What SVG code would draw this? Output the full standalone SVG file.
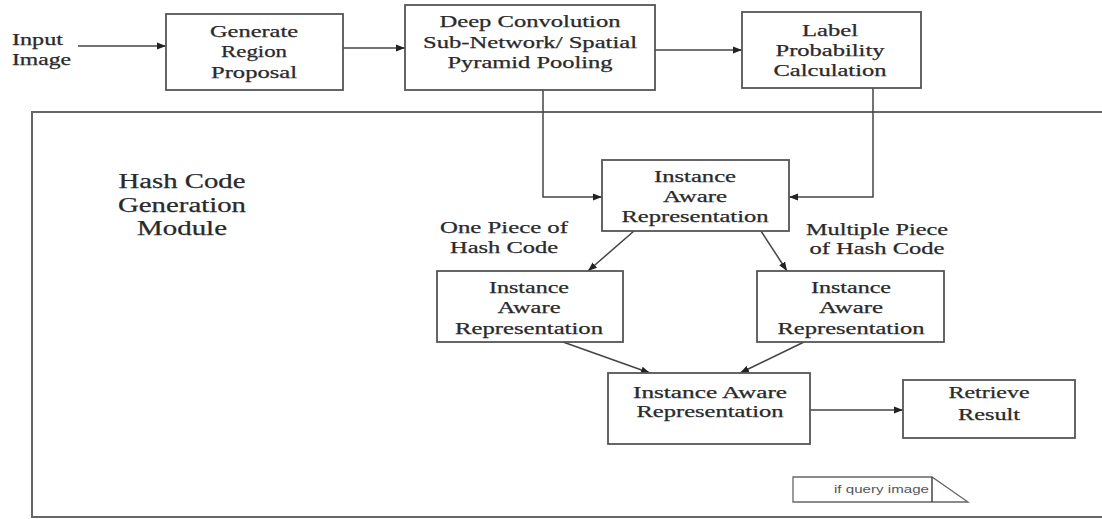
<svg xmlns="http://www.w3.org/2000/svg" width="1102" height="519" viewBox="0 0 1102 519">
<defs>
<marker id="ah" markerWidth="10" markerHeight="8" refX="9" refY="4" orient="auto" markerUnits="userSpaceOnUse">
<path d="M0,0.5 L9,4 L0,7.5 Z" fill="#222"/>
</marker>
<style>
.box{fill:#fff;stroke:#555;stroke-width:1.8}
.frame{fill:none;stroke:#666;stroke-width:2}
.t{font-family:'Liberation Serif','DejaVu Serif',serif;font-size:16px;fill:#2a2a2a;stroke:#2a2a2a;stroke-width:0.25;text-anchor:middle}
.ts{font-family:'Liberation Serif','DejaVu Serif',serif;font-size:16px;fill:#2a2a2a;stroke:#2a2a2a;stroke-width:0.25}
.tb{font-family:'Liberation Serif','DejaVu Serif',serif;font-size:20px;fill:#2a2a2a;stroke:#2a2a2a;stroke-width:0.25;text-anchor:middle}
.c{fill:none;stroke:#444;stroke-width:1.5}
.note{font-family:'Liberation Sans',Arial,sans-serif;font-size:11px;fill:#555;text-anchor:end}
</style>
</defs>
<rect width="1102" height="519" fill="#fff"/>
<g id="module-frame">
<rect class="frame" x="32" y="112" width="1090" height="405"/>
<text class="tb" x="182" y="188" textLength="127" lengthAdjust="spacingAndGlyphs">Hash Code</text>
<text class="tb" x="182" y="212" textLength="128" lengthAdjust="spacingAndGlyphs">Generation</text>
<text class="tb" x="182" y="235" textLength="90" lengthAdjust="spacingAndGlyphs">Module</text>
</g>
<g id="input-image">
<text class="ts" x="12" y="45" textLength="51" lengthAdjust="spacingAndGlyphs">Input</text>
<text class="ts" x="12" y="65" textLength="59" lengthAdjust="spacingAndGlyphs">Image</text>
</g>
<g id="connectors">
<line class="c" x1="78" y1="46" x2="166" y2="46" marker-end="url(#ah)"/>
<line class="c" x1="343" y1="48" x2="405" y2="48" marker-end="url(#ah)"/>
<line class="c" x1="655" y1="50" x2="742" y2="50" marker-end="url(#ah)"/>
<polyline class="c" points="543,90 543,197 602,197" marker-end="url(#ah)"/>
<polyline class="c" points="873,88 873,197 789,197" marker-end="url(#ah)"/>
<line class="c" x1="634" y1="231" x2="588" y2="271" marker-end="url(#ah)"/>
<line class="c" x1="761" y1="231" x2="787" y2="271" marker-end="url(#ah)"/>
<line class="c" x1="563" y1="342" x2="650" y2="373" marker-end="url(#ah)"/>
<line class="c" x1="804" y1="342" x2="740" y2="373" marker-end="url(#ah)"/>
<line class="c" x1="810" y1="410" x2="903" y2="410" marker-end="url(#ah)"/>
</g>
<g id="generate-region-proposal">
<rect class="box" x="166" y="14" width="177" height="76"/>
<text class="t" x="254" y="37" textLength="88" lengthAdjust="spacingAndGlyphs">Generate</text>
<text class="t" x="254" y="57" textLength="66" lengthAdjust="spacingAndGlyphs">Region</text>
<text class="t" x="254" y="78" textLength="86" lengthAdjust="spacingAndGlyphs">Proposal</text>
</g>
<g id="deep-convolution">
<rect class="box" x="405" y="5" width="250" height="85"/>
<text class="t" x="530" y="27" textLength="181" lengthAdjust="spacingAndGlyphs">Deep Convolution</text>
<text class="t" x="530" y="48" textLength="214" lengthAdjust="spacingAndGlyphs">Sub-Network/ Spatial</text>
<text class="t" x="530" y="68" textLength="165" lengthAdjust="spacingAndGlyphs">Pyramid Pooling</text>
</g>
<g id="label-probability">
<rect class="box" x="742" y="12" width="179" height="76"/>
<text class="t" x="830" y="36" textLength="56" lengthAdjust="spacingAndGlyphs">Label</text>
<text class="t" x="830" y="56" textLength="109" lengthAdjust="spacingAndGlyphs">Probability</text>
<text class="t" x="830" y="76" textLength="113" lengthAdjust="spacingAndGlyphs">Calculation</text>
</g>
<g id="instance-top">
<rect class="box" x="602" y="160" width="187" height="71"/>
<text class="t" x="695" y="182" textLength="82" lengthAdjust="spacingAndGlyphs">Instance</text>
<text class="t" x="695" y="202" textLength="64" lengthAdjust="spacingAndGlyphs">Aware</text>
<text class="t" x="695" y="222" textLength="147" lengthAdjust="spacingAndGlyphs">Representation</text>
</g>
<g id="label-one-piece">
<text class="t" x="504" y="233" textLength="128" lengthAdjust="spacingAndGlyphs">One Piece of</text>
<text class="t" x="504" y="253" textLength="108" lengthAdjust="spacingAndGlyphs">Hash Code</text>
</g>
<g id="label-multiple-piece">
<text class="t" x="877" y="235" textLength="142" lengthAdjust="spacingAndGlyphs">Multiple Piece</text>
<text class="t" x="877" y="254" textLength="135" lengthAdjust="spacingAndGlyphs">of Hash Code</text>
</g>
<g id="instance-left">
<rect class="box" x="437" y="271" width="186" height="71"/>
<text class="t" x="529" y="293" textLength="80" lengthAdjust="spacingAndGlyphs">Instance</text>
<text class="t" x="529" y="313" textLength="63" lengthAdjust="spacingAndGlyphs">Aware</text>
<text class="t" x="529" y="334" textLength="148" lengthAdjust="spacingAndGlyphs">Representation</text>
</g>
<g id="instance-right">
<rect class="box" x="757" y="271" width="187" height="71"/>
<text class="t" x="851" y="293" textLength="80" lengthAdjust="spacingAndGlyphs">Instance</text>
<text class="t" x="851" y="313" textLength="64" lengthAdjust="spacingAndGlyphs">Aware</text>
<text class="t" x="851" y="334" textLength="147" lengthAdjust="spacingAndGlyphs">Representation</text>
</g>
<g id="instance-bottom">
<rect class="box" x="608" y="373" width="202" height="71"/>
<text class="t" x="710" y="398" textLength="154" lengthAdjust="spacingAndGlyphs">Instance Aware</text>
<text class="t" x="710" y="417" textLength="147" lengthAdjust="spacingAndGlyphs">Representation</text>
</g>
<g id="retrieve-result">
<rect class="box" x="903" y="380" width="172" height="58"/>
<text class="t" x="989" y="398" textLength="81" lengthAdjust="spacingAndGlyphs">Retrieve</text>
<text class="t" x="989" y="420" textLength="62" lengthAdjust="spacingAndGlyphs">Result</text>
</g>
<g id="query-image-note">
<path d="M793,477 L932,477 L968,502 L793,502 Z" fill="#fff" stroke="#666" stroke-width="1.3"/>
<line x1="932" y1="477" x2="932" y2="502" stroke="#444" stroke-width="1.5"/>
<text class="note" x="929" y="493" textLength="95" lengthAdjust="spacingAndGlyphs">if query image</text>
</g>
</svg>
